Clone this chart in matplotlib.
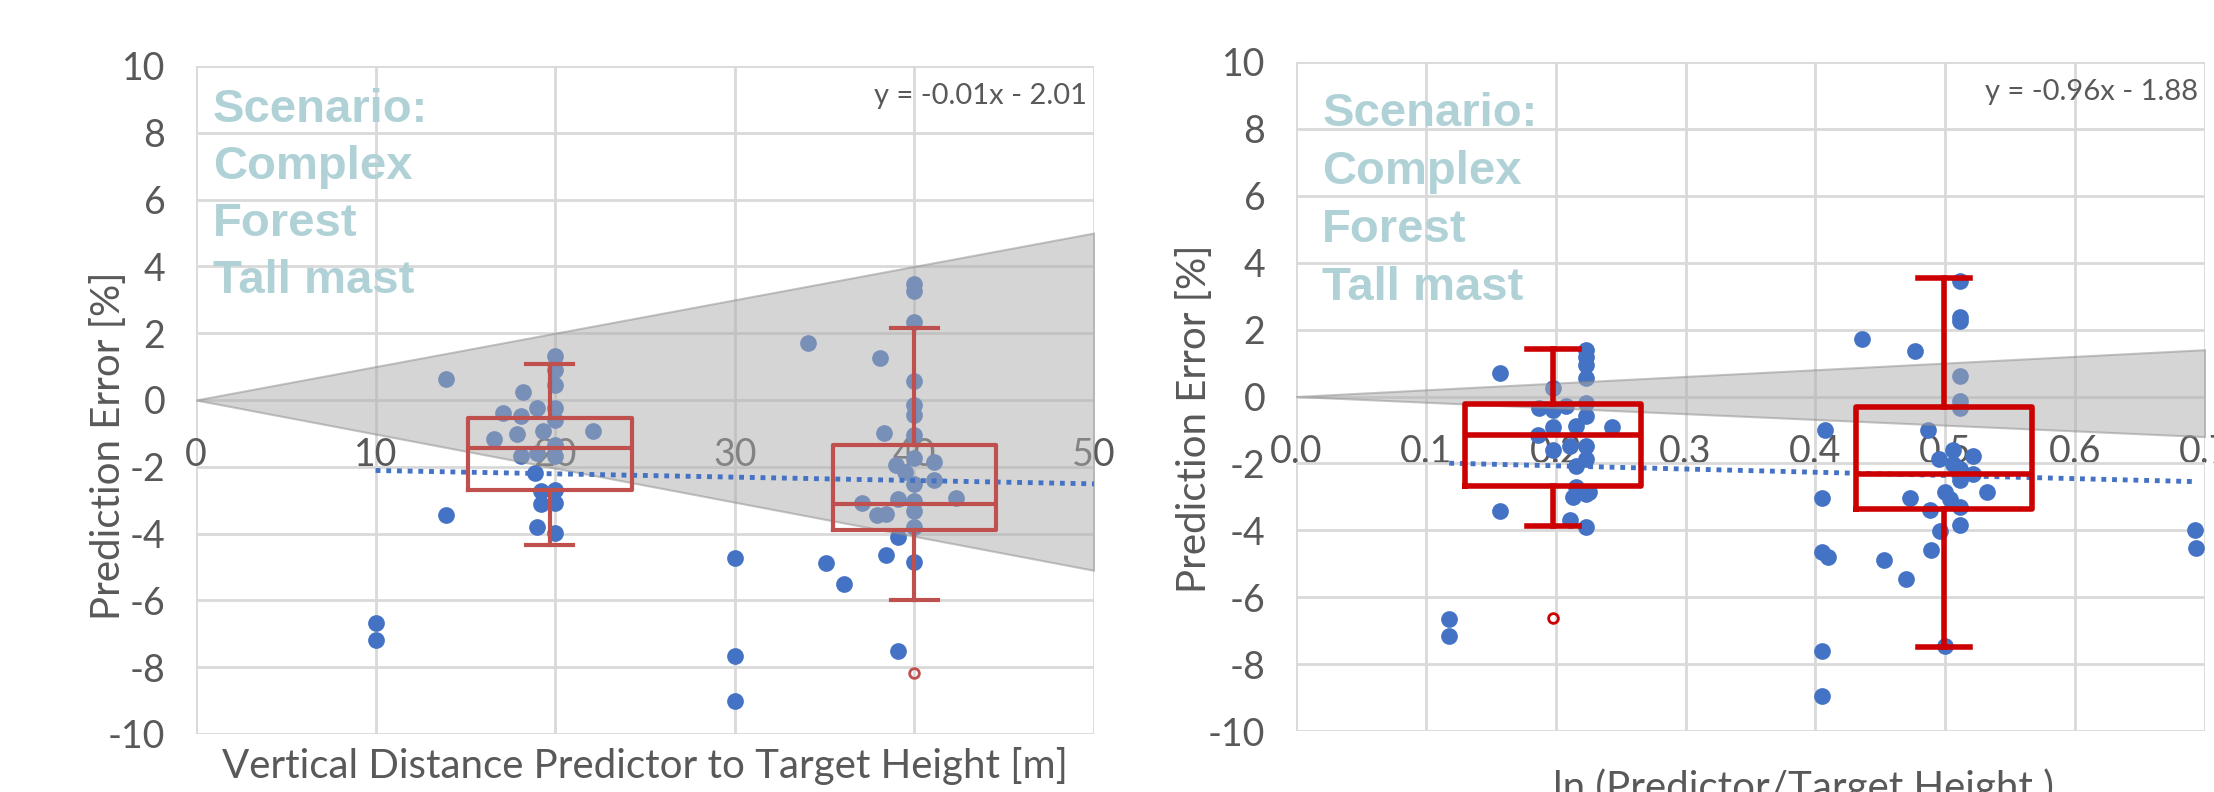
import numpy as np
import matplotlib
matplotlib.use("Agg")
import matplotlib.pyplot as plt

plt.rcParams['font.family'] = ['Lato', 'DejaVu Sans']
plt.rcParams['axes.unicode_minus'] = False

# ---------------------------------------------------------------------------
# data
# ---------------------------------------------------------------------------

# left panel: vertical distance predictor -> target height [m]
x_left = [10, 10, 13.9, 13.9, 18.2, 17.1, 18.1, 19.0, 20, 20, 20, 20, 20, 16.6, 17.9, 19.3, 22.1,
          18.1, 19.0, 20, 20, 18.9, 19.2, 19.2, 20, 20, 19.0, 20,
          30, 30, 30, 34.1, 35.1, 36.1, 38.1, 38.3, 37.1, 37.9, 38.4, 38.4, 39.1, 39.1, 39.1, 39.0, 39.5,
          40, 40, 40, 40, 40, 40, 40, 40, 40, 40, 40, 40, 40, 41.1, 41.1, 42.3]
y_left = [-6.67, -7.2, 0.64, -3.45, 0.23, -0.38, -0.48, -0.24, 1.32, 0.9, 0.45, -0.23, -0.6, -1.18, -1.03, -0.94, -0.94,
          -1.67, -1.6, -1.67, -1.36, -2.2, -2.73, -3.1, -3.08, -2.7, -3.8, -3.97,
          -4.74, -7.65, -9.0, 1.7, -4.88, -5.5, 1.26, -0.98, -3.08, -3.44, -3.4, -4.64, -4.1, -7.5, -2.95, -1.94, -2.17,
          3.48, 3.26, 2.35, 0.58, -0.15, -0.45, -1.06, -1.74, -2.5, -3.03, -3.33, -3.79, -4.85, -1.85, -2.39, -2.92]

# right panel: ln(predictor / target height)
x_right = [0.118, 0.118, 0.157, 0.157, 0.198, 0.187, 0.198, 0.208, 0.223, 0.223, 0.223, 0.223, 0.223, 0.223,
           0.216, 0.198, 0.243, 0.186, 0.198, 0.211, 0.223, 0.223, 0.216, 0.216, 0.213, 0.223, 0.226, 0.211, 0.223,
           0.407, 0.405, 0.405, 0.41, 0.405, 0.405, 0.436, 0.477, 0.453, 0.47, 0.473, 0.487, 0.488, 0.489, 0.496, 0.5, 0.5,
           0.511, 0.511, 0.511, 0.511, 0.511, 0.511, 0.506, 0.495, 0.506, 0.511, 0.521, 0.521, 0.511, 0.504, 0.511,
           0.511, 0.532, 0.692, 0.693]
y_right = [-6.66, -7.16, 0.71, -3.42, 0.26, -0.35, -0.39, -0.27, 1.39, 1.17, 0.94, 0.56, -0.2, -0.58,
           -0.88, -0.92, -0.91, -1.14, -1.59, -1.48, -1.48, -1.86, -2.09, -2.7, -3.0, -2.92, -2.85, -3.68, -3.9,
           -1.0, -3.03, -4.66, -4.81, -7.62, -8.95, 1.73, 1.35, -4.88, -5.47, -3.03, -1.0, -3.38, -4.59, -4.03, -2.85, -7.46,
           3.44, 2.38, 2.27, 0.6, -0.12, -0.35, -1.6, -1.86, -2.01, -2.16, -1.79, -2.32, -2.51, -3.07, -3.3,
           -3.83, -2.85, -3.98, -4.54]

# box & whisker statistics
left_box_pos = [19.7, 40.0]
left_box_q1 = [-2.7, -3.9]
left_box_med = [-1.45, -3.1]
left_box_q3 = [-0.55, -1.35]
left_box_lo = [-4.35, -6.0]
left_box_hi = [1.07, 2.15]
left_box_fliers = [[], [-8.18]]

right_box_pos = [0.198, 0.499]
right_box_q1 = [-2.69, -3.35]
right_box_med = [-1.15, -2.32]
right_box_q3 = [-0.23, -0.32]
right_box_lo = [-3.86, -7.49]
right_box_hi = [1.42, 3.54]
right_box_fliers = [[-6.63], []]

# grey tolerance wedge
left_band_x = [0, 50]
left_band_hi = [0, 5.0]
left_band_lo = [0, -5.1]
right_band_x = [0, 0.7]
right_band_hi = [0, 1.4]
right_band_lo = [0, -1.2]

# linear trend lines (as printed on the chart)
left_trend = [-0.01, -2.01]
right_trend = [-0.96, -1.88]
left_trend_x = [10, 50]

y_ticks = [-10, -8, -6, -4, -2, 0, 2, 4, 6, 8, 10]
left_x_ticks = [0, 10, 20, 30, 40, 50]
right_x_ticks = [0.0, 0.1, 0.2, 0.3, 0.4, 0.5, 0.6, 0.7]
scenario_lines = ["Scenario:", "Complex", "Forest", "Tall mast"]

# ---------------------------------------------------------------------------

W, H = 2214, 792
fig = plt.figure(figsize=(W / 100, H / 100), dpi=100)

GREY_TXT = '#595959'
DOT = '#4472c4'
TEAL = '#b0d2d6'


def panel(rect, xs, ys, xlim, xticks, xfmt, band, trend, trend_x, boxes, box_w, cap_w, box_col, box_lw,
          eq_text, txt_x, txt_y0, txt_dy):
    ax = fig.add_axes(rect)
    ax.set_xlim(*xlim)
    ax.set_ylim(-10, 10)
    ax.set_xticks(xticks)
    ax.set_xticklabels([xfmt % t for t in xticks])
    ax.set_yticks(y_ticks)
    ax.set_yticklabels([str(t) for t in y_ticks])
    for s in ax.spines.values():
        s.set_visible(False)
    ax.spines['bottom'].set_position(('data', 0))
    ax.grid(True, color='#d9d9d9', lw=2, zorder=0)
    ax.set_axisbelow(True)
    ax.tick_params(axis='both', length=0, labelsize=27, colors=GREY_TXT)
    ax.tick_params(axis='x', pad=27)
    ax.tick_params(axis='y', pad=22)

    ax.scatter(xs, ys, s=145, color=DOT, linewidths=0, zorder=2)

    bx, bhi, blo = band
    ax.fill_between(bx, blo, bhi, facecolor='#adadad', edgecolor='#8c8c8c', lw=1.5, alpha=0.5, zorder=3)

    tx = np.array(trend_x)
    ax.plot(tx, trend[0] * tx + trend[1], color=DOT, lw=3.5, linestyle=(0, (1, 1.2)), zorder=4)

    pos, q1, med, q3, lo, hi, fl = boxes
    stats = [dict(med=med[i], q1=q1[i], q3=q3[i], whislo=lo[i], whishi=hi[i], fliers=fl[i])
             for i in range(len(pos))]
    lp = dict(color=box_col, lw=box_lw)
    ax.bxp(stats, positions=pos, widths=box_w, capwidths=cap_w, manage_ticks=False,
           boxprops=lp, whiskerprops=lp, capprops=lp, medianprops=lp,
           flierprops=dict(marker='o', markersize=7, markerfacecolor='none',
                           markeredgecolor=box_col, markeredgewidth=2),
           zorder=5)

    ax.text(0.992, 0.975, eq_text, transform=ax.transAxes, ha='right', va='top',
            fontsize=21, color=GREY_TXT, zorder=6)
    for i, line in enumerate(scenario_lines):
        ax.text(txt_x, txt_y0 - i * txt_dy, line, transform=ax.transAxes, ha='left', va='baseline',
                fontsize=34, fontweight='bold', color=TEAL, family=['Liberation Sans', 'DejaVu Sans'],
                zorder=6)
    return ax


ax1 = panel([196 / W, 1 - 734 / H, 898 / W, 668 / H], x_left, y_left, (0, 50), left_x_ticks, '%d',
            (left_band_x, left_band_hi, left_band_lo), left_trend, left_trend_x,
            (left_box_pos, left_box_q1, left_box_med, left_box_q3, left_box_lo, left_box_hi, left_box_fliers),
            9.1, 2.6, '#c0504d', 3, "y = -0.01x - 2.01", 0.019, 0.916, 0.0853)

ax2 = panel([1296 / W, 1 - 731 / H, 909 / W, 669 / H], x_right, y_right, (0, 0.7), right_x_ticks, '%.1f',
            (right_band_x, right_band_hi, right_band_lo), right_trend, [min(x_right), max(x_right)],
            (right_box_pos, right_box_q1, right_box_med, right_box_q3, right_box_lo, right_box_hi, right_box_fliers),
            0.136, 0.04, '#cc0000', 4, "y = -0.96x - 1.88", 0.029, 0.904, 0.0867)

# axis titles
fig.text(645 / W, 1 - 778 / H, "Vertical Distance Predictor to Target Height [m]", ha='center', va='baseline',
         fontsize=29, color=GREY_TXT)
fig.text(1803 / W, 1 - 800 / H, "ln (Predictor/Target Height )", ha='center', va='baseline',
         fontsize=29, color=GREY_TXT)
fig.text(109 / W, 1 - 446 / H, "Prediction Error [%]", rotation=90, ha='center', va='center',
         fontsize=29, color=GREY_TXT)
fig.text(1195 / W, 1 - 419 / H, "Prediction Error [%]", rotation=90, ha='center', va='center',
         fontsize=29, color=GREY_TXT)

plt.savefig("out.png", dpi=100)
